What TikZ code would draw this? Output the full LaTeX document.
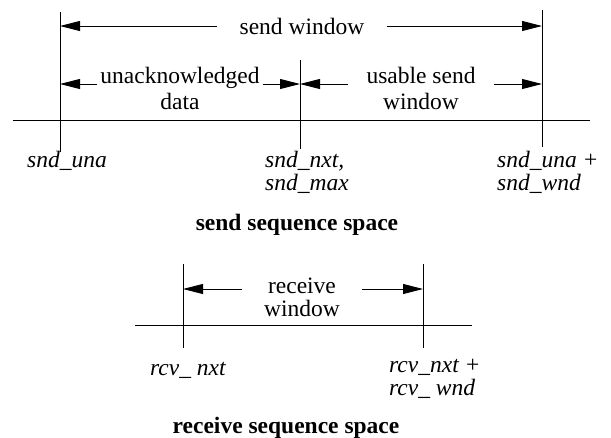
\documentclass[tikz,border=0pt]{standalone}
\usepackage{fontspec}
\setmainfont{Liberation Serif}
\usetikzlibrary{arrows.meta}

\tikzset{
  win/.style={->, line width=0.9pt},
  tick/.style={line width=0.9pt},
  winlabel/.style={font=\fontsize{23.5}{26}\selectfont, align=center, inner ysep=0pt},
  seqlabel/.style={font=\itshape\fontsize{23.5}{23}\selectfont, align=left, inner sep=0pt, anchor=north west},
  spacetitle/.style={font=\bfseries\fontsize{23.5}{26}\selectfont, anchor=base},
}

\begin{document}
\begin{tikzpicture}[x=1pt, y=-1pt, >={Triangle[length=20pt,width=10pt]}]
    \useasboundingbox (0,0) rectangle (611,437);
    % send sequence space
    \draw[tick] (13,120) -- (590,120);
    \draw[tick] (60,12) -- (60,152);
    \draw[tick] (300,60) -- (300,149);
    \draw[tick] (542,10) -- (542,147);
    \coordinate (una1) at (60,26);
    \coordinate (una2) at (60,84);
    \coordinate (nxt) at (300,84);
    \coordinate (wnd1) at (542,26);
    \coordinate (wnd2) at (542,84);
    \node[winlabel, inner xsep=22pt] (sendwin) at (302,26) {send window};
    \node[winlabel, inner xsep=3pt] (unack) at (180,88) {unacknowledged\\data};
    \node[winlabel, inner xsep=18pt] (usable) at (421,88) {usable send\\window};
    \draw[win] (sendwin.west |- una1) -- (una1);
    \draw[win] (sendwin.east |- wnd1) -- (wnd1);
    \draw[win] (unack.west |- una2) -- (una2);
    \draw[win] (unack.east |- nxt) -- (nxt);
    \draw[win] (usable.west |- nxt) -- (nxt);
    \draw[win] (usable.east |- wnd2) -- (wnd2);
    \node[seqlabel] (snduna) at (27,151) {snd\_una};
    \node[seqlabel] (sndnxt) at (265,151) {snd\_nxt,\\snd\_max};
    \node[seqlabel] (sndwnd) at (497,151) {snd\_una +\\snd\_wnd};
    \node[spacetitle] (sendspace) at (297,230) {send sequence space};
    % receive sequence space
    \draw[tick] (135,325) -- (472,325);
    \draw[tick] (183,264) -- (183,348);
    \draw[tick] (423,264) -- (423,348);
    \coordinate (rnxt) at (183,289);
    \coordinate (rwnd) at (423,289);
    \node[winlabel, inner xsep=22pt, font=\fontsize{23.5}{23}\selectfont] (recvwin) at (302,297) {receive\\window};
    \draw[win] (recvwin.west |- rnxt) -- (rnxt);
    \draw[win] (recvwin.east |- rwnd) -- (rwnd);
    \node[seqlabel] (rcvnxt) at (150,362) {rcv\_ nxt};
    \node[seqlabel] (rcvwnd) at (389,359) {rcv\_nxt +\\rcv\_ wnd};
    \node[spacetitle] (recvspace) at (286,433) {receive sequence space};
\end{tikzpicture}
\end{document}
